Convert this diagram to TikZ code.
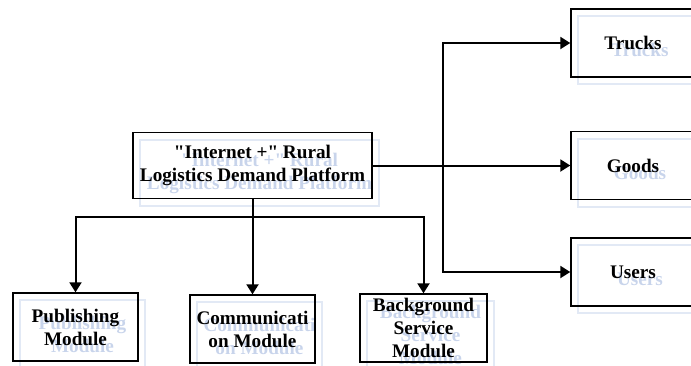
\documentclass[tikz,border=0pt]{standalone}
\usepackage{fontspec}
\setmainfont{Liberation Serif}[Ligatures=TeXOff]
\usepackage{tikz}
\usetikzlibrary{arrows.meta}
\definecolor{ghostline}{RGB}{226,233,245}
\definecolor{ghosttext}{RGB}{200,212,235}
\tikzset{
	box/.style={draw, line width=0.7pt, inner sep=0pt, align=center,
		font=\fontsize{9.6}{11.5}\selectfont\bfseries},
	mainbox/.style={box, minimum width=119.5pt, minimum height=33pt},
	sidebox/.style={box, minimum width=62pt, minimum height=34pt},
	modbox/.style={box, minimum width=62.5pt, minimum height=34pt},
	ghost/.style={draw=ghostline, text=ghosttext},
	link/.style={line width=1pt},
	arr/.style={link, -{Triangle[length=5pt,width=6pt]}}
}

\begin{document}
\begin{tikzpicture}[x=5pt, y=-5pt]
	\useasboundingbox (0, 0) rectangle (69.1, 36.5);
	\clip (0, 0) rectangle (69.1, 36.5);
	% faint shadow copies
	\node [mainbox, ghost] (gP) at (25.95, 17.3) {"Internet +" Rural\\Logistics Demand Platform};
	\node [sidebox, ghost] (gR1) at (64.0, 5.0) {Trucks};
	\node [sidebox, ghost] (gR2) at (64.0, 17.3) {Goods};
	\node [sidebox, ghost] (gR3) at (64.0, 27.9) {Users};
	\node [modbox, ghost] (gB1) at (8.25, 33.4) {Publishing\\Module};
	\node [modbox, ghost] (gB2) at (25.95, 33.6) {Communicati\\on Module};
	\node [modbox, ghost, minimum width=63.5pt] (gB3) at (43.05, 33.5) {Background\\Service\\Module};
	% boxes
	\node [mainbox] (P) at (25.25, 16.55) {"Internet +" Rural\\Logistics Demand Platform};
	\node [sidebox] (R1) at (63.3, 4.3) {Trucks};
	\node [sidebox] (R2) at (63.3, 16.55) {Goods};
	\node [sidebox] (R3) at (63.3, 27.2) {Users};
	\node [modbox] (B1) at (7.55, 32.7) {Publishing\\Module};
	\node [modbox] (B2) at (25.25, 32.9) {Communicati\\on Module};
	\node [modbox, minimum width=63.5pt] (B3) at (42.35, 32.8) {Background\\Service\\Module};
	\coordinate (J) at (25.25, 21.7);
	\coordinate (K) at (44.3, 16.55);
	% connectors
	\draw [link] (P) -- (J);
	\draw [arr] (J) -| (B1);
	\draw [arr] (J) -- (B2);
	\draw [arr] (J) -| (B3);
	\draw [arr] (P) -- (R2);
	\draw [arr] (K) |- (R1);
	\draw [arr] (K) |- (R3);
\end{tikzpicture}
\end{document}
